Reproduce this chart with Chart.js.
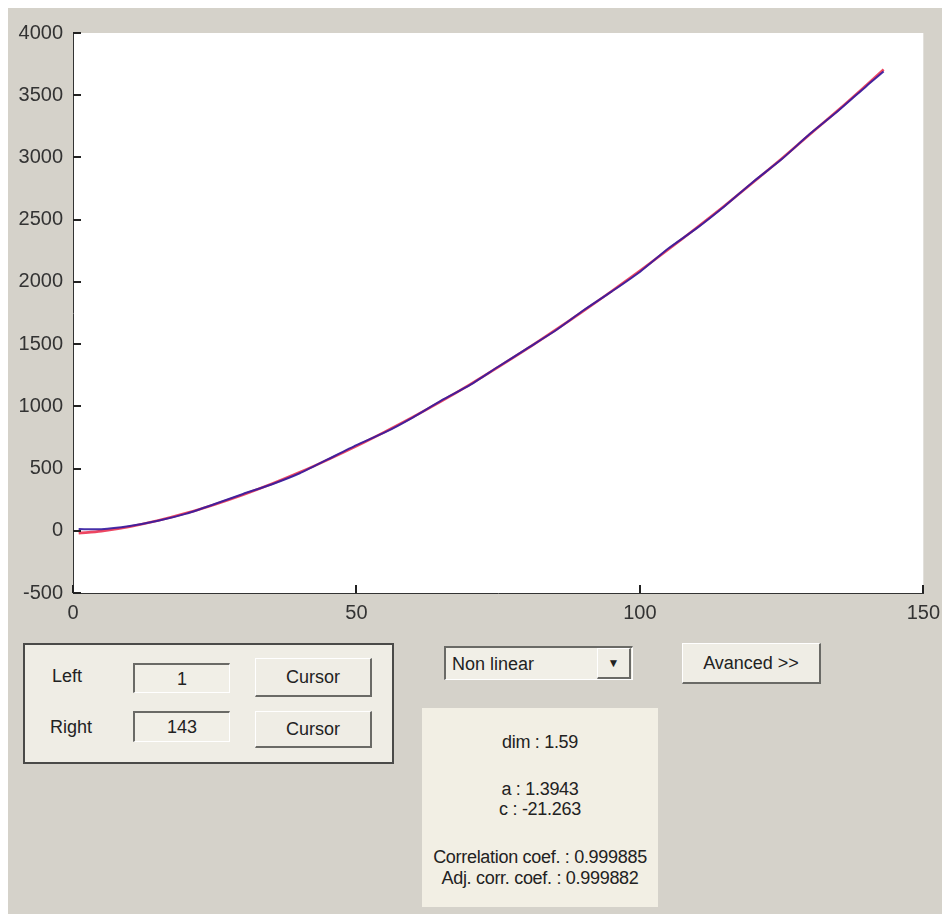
<!DOCTYPE html>
<html>
<head>
<meta charset="utf-8">
<script src="https://cdn.jsdelivr.net/npm/chart.js@4"></script>
<style>
  body { margin: 0; background: #fff; width: 942px; height: 914px; overflow: hidden; font-family: "Liberation Sans", Arial, sans-serif; position: relative; }
  #panel { position: absolute; left: 8px; top: 8px; width: 934px; height: 906px; background: #d5d2ca; }
  #chartBox { position: absolute; left: 0; top: 0; width: 948px; height: 630px; }
  .abs { position: absolute; box-sizing: border-box; }
  .txt { position: absolute; font-size: 18px; color: #222; white-space: nowrap; }
  #group { left: 23px; top: 643px; width: 371px; height: 121px; background: #efede5; border: 2px solid #4a4a48; }
  .edit { background: #f1efe7; border-top: 2px solid #6a6a66; border-left: 2px solid #6a6a66; border-right: 1px solid #fff; border-bottom: 1px solid #fff; text-align: center; font-size: 18px; color: #222; }
  .btn { background: #efede5; border-top: 1px solid #fff; border-left: 1px solid #fff; border-right: 2px solid #6a6a66; border-bottom: 2px solid #6a6a66; text-align: center; font-size: 18px; color: #222; }
  #result { left: 422px; top: 708px; width: 236px; height: 199px; background: #f2efe4; }
  #result div { position: absolute; left: 0; width: 236px; text-align: center; font-size: 18px; color: #222; line-height: 20px; white-space: nowrap; letter-spacing: -0.3px; }
</style>
</head>
<body>
<div id="panel"></div>
<div id="chartBox"><canvas id="fitChart"></canvas></div>

<div class="abs" id="group"></div>
<div class="txt" style="left:52px; top:666px;">Left</div>
<div class="txt" style="left:50px; top:717px;">Right</div>
<div class="abs edit" style="left:133px; top:663px; width:97px; height:30px; line-height:28px;">1</div>
<div class="abs edit" style="left:133px; top:711px; width:97px; height:31px; line-height:29px;">143</div>
<div class="abs btn" style="left:255px; top:658px; width:117px; height:39px; line-height:37px;">Cursor</div>
<div class="abs btn" style="left:255px; top:711px; width:117px; height:37px; line-height:35px;">Cursor</div>

<div class="abs edit" style="left:444px; top:646px; width:189px; height:34px; line-height:32px; text-align:left; padding-left:6px;">Non linear</div>
<div class="abs btn" style="left:597px; top:648px; width:34px; height:31px; line-height:29px; font-size:12px;">&#9660;</div>
<div class="abs btn" style="left:682px; top:643px; width:139px; height:41px; line-height:39px;">Avanced &gt;&gt;</div>

<div class="abs" id="result">
  <div style="top:24px;">dim : 1.59</div>
  <div style="top:71px;">a : 1.3943</div>
  <div style="top:91px;">c : -21.263</div>
  <div style="top:139px;">Correlation coef. : 0.999885</div>
  <div style="top:160px;">Adj. corr. coef. : 0.999882</div>
</div>

<script>
// x positions of the samples (index 1..143)
var xValues = [1, 5, 10, 15, 20, 25, 30, 35, 40, 45, 50, 55, 60, 65, 70, 75, 80, 85, 90, 95, 100, 105, 110, 115, 120, 125, 130, 135, 140, 143];
// measured curve (blue)
var dataValues = [14, 12, 38, 80, 138, 215, 296, 372, 462, 575, 688, 790, 912, 1048, 1170, 1318, 1462, 1605, 1770, 1922, 2080, 2268, 2430, 2610, 2805, 2985, 3190, 3375, 3575, 3690];
// non linear fit (red)
var fitValues = [-20, -3, 33, 82, 142, 212, 290, 376, 470, 572, 680, 795, 915, 1042, 1175, 1315, 1459, 1610, 1765, 1925, 2089, 2260, 2435, 2614, 2800, 2990, 3186, 3381, 3583, 3706];
var xTicks = [0, 50, 100, 150];
var yTicks = [-500, 0, 500, 1000, 1500, 2000, 2500, 3000, 3500, 4000];

function toPoints(ys) {
    return xValues.map((x, i) => ({x: x, y: ys[i]}));
}

// white axes background + matlab style inward ticks
var matlabAxes = {
    id: 'matlabAxes',
    beforeDraw(chart) {
        var a = chart.chartArea;
        var ctx = chart.ctx;
        ctx.save();
        ctx.fillStyle = '#ffffff';
        ctx.fillRect(a.left, a.top, a.right - a.left, a.bottom - a.top);
        ctx.restore();
    },
    afterDatasetsDraw(chart) {
        var a = chart.chartArea;
        var ctx = chart.ctx;
        var sx = chart.scales.x, sy = chart.scales.y;
        ctx.save();
        ctx.fillStyle = '#222222';
        xTicks.forEach(t => {
            var px = Math.round(sx.getPixelForValue(t));
            ctx.fillRect(px - 1, a.bottom - 8, 2, 8);
        });
        yTicks.forEach(t => {
            var py = Math.round(sy.getPixelForValue(t));
            ctx.fillRect(a.left, py - 1, 8, 2);
        });
        ctx.restore();
    }
};

var fitChart = new Chart('fitChart', {
    type: 'line',
    data: {
        datasets: [{
            label: 'data',
            data: toPoints(dataValues),
            borderColor: 'rgba(50, 25, 160, 0.9)',
            borderWidth: 2,
            pointRadius: 0,
            tension: 0.2
        }, {
            label: 'fit',
            data: toPoints(fitValues),
            borderColor: 'rgba(235, 50, 80, 0.9)',
            borderWidth: 2.6,
            pointRadius: 0,
            tension: 0.3
        }]
    },
    options: {
        responsive: true,
        maintainAspectRatio: false,
        animation: false,
        layout: { padding: { left: 0, right: 19, top: 33, bottom: 0 } },
        plugins: {
            legend: { display: false },
            tooltip: { enabled: false }
        },
        scales: {
            x: {
                type: 'linear',
                min: 0,
                max: 150,
                afterBuildTicks: s => { s.ticks = xTicks.map(v => ({value: v})); },
                grid: { display: false, drawTicks: false },
                border: { display: true, color: '#333', width: 1 },
                ticks: { color: '#333', padding: 8, maxRotation: 0, callback: v => String(v), font: { family: 'Liberation Sans', size: 20 } },
                afterFit: s => { s.height = 37; }
            },
            y: {
                min: -500,
                max: 4000,
                afterBuildTicks: s => { s.ticks = yTicks.map(v => ({value: v})); },
                grid: { display: false, drawTicks: false },
                border: { display: true, color: '#333', width: 1 },
                ticks: { color: '#333', padding: 10, callback: v => String(v), font: { family: 'Liberation Sans', size: 20 } },
                afterFit: s => { s.width = 73; }
            }
        }
    },
    plugins: [matlabAxes]
});
</script>
</body>
</html>
